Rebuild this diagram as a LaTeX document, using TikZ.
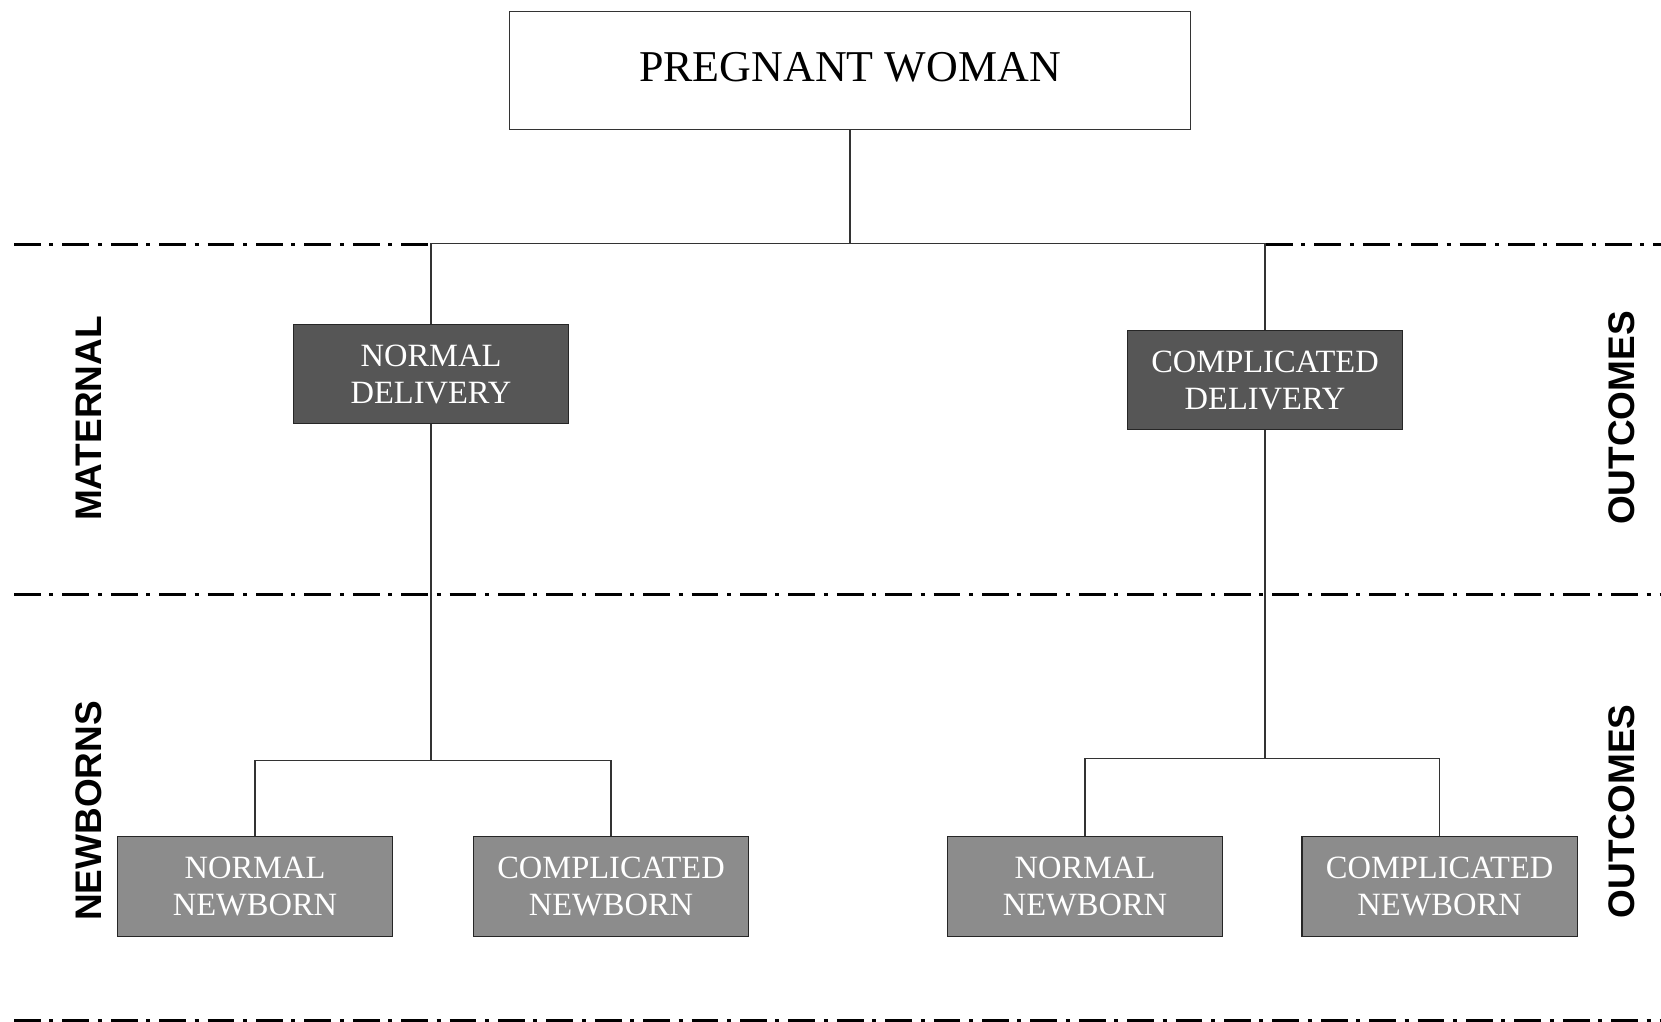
\documentclass[tikz,border=0pt]{standalone}
\usepackage{fontspec}
\setmainfont{Liberation Serif}
\setsansfont{Liberation Sans}
\definecolor{darkbox}{RGB}{86,86,86}
\definecolor{lightbox}{RGB}{140,140,140}
\begin{document}
\begin{tikzpicture}[x=1pt,y=-1pt,
  conn/.style={draw=black!80, line width=1.3pt},
  divider/.style={line width=3pt, dash pattern=on 26.7pt off 8.7pt on 4pt off 9pt},
  box/.style={draw=black!85, line width=1.3pt, minimum width=275.5pt,
    minimum height=99.6pt, inner sep=0pt, align=center, text=white,
    font=\fontsize{32.5}{37}\selectfont},
  mainbox/.style={box, fill=darkbox},
  kidbox/.style={box, fill=lightbox},
  side/.style={rotate=90, inner sep=0pt,
    font=\fontsize{37}{40}\sffamily\bfseries\selectfont}
]
\useasboundingbox (0,0) rectangle (1661,1021);

% level guides
\coordinate (topbar) at (0,243.6);
\coordinate (leftbar) at (0,760.6);
\coordinate (rightbar) at (0,758.5);

% dash-dot separators
\draw[divider] (14,244.6) -- (430,244.6);
\draw[divider] (1266,244.6) -- (1661,244.6);
\draw[divider] (14,594.3) -- (1661,594.3);
\draw[divider] (14,1020.3) -- (1661,1020.3);

% boxes
\node[draw=black!80, line width=1.3pt, fill=white, inner sep=0pt,
  minimum width=681pt, minimum height=117.5pt, text depth=8pt,
  font=\fontsize{44}{48}\selectfont] (pw) at (850,70.5) {PREGNANT WOMAN};

\node[mainbox] (nd) at (431,374) {NORMAL\\DELIVERY};
\node[mainbox] (cd) at (1265,380) {COMPLICATED\\DELIVERY};

\node[kidbox] (nn1) at (255,886.6) {NORMAL\\NEWBORN};
\node[kidbox] (cn1) at (611,886.6) {COMPLICATED\\NEWBORN};
\node[kidbox] (nn2) at (1085,886.6) {NORMAL\\NEWBORN};
\node[kidbox] (cn2) at (1439.6,886.6) {COMPLICATED\\NEWBORN};

% connectors
\draw[conn] (pw.south) -- (pw.south |- topbar);
\draw[conn] (nd.north) -- (nd.north |- topbar) -- (cd.north |- topbar) -- (cd.north);
\draw[conn] (nd.south) -- (nd.south |- leftbar);
\draw[conn] (nn1.north) -- (nn1.north |- leftbar) -- (cn1.north |- leftbar) -- (cn1.north);
\draw[conn] (cd.south) -- (cd.south |- rightbar);
\draw[conn] (nn2.north) -- (nn2.north |- rightbar) -- (cn2.north |- rightbar) -- (cn2.north);

% side labels
\node[side] (lmat) at (89,418.5) {MATERNAL};
\node[side] (lnew) at (89,811) {NEWBORNS};
\node[side] (rout1) at (1621.5,418) {OUTCOMES};
\node[side] (rout2) at (1621.5,811.5) {OUTCOMES};
\end{tikzpicture}
\end{document}
